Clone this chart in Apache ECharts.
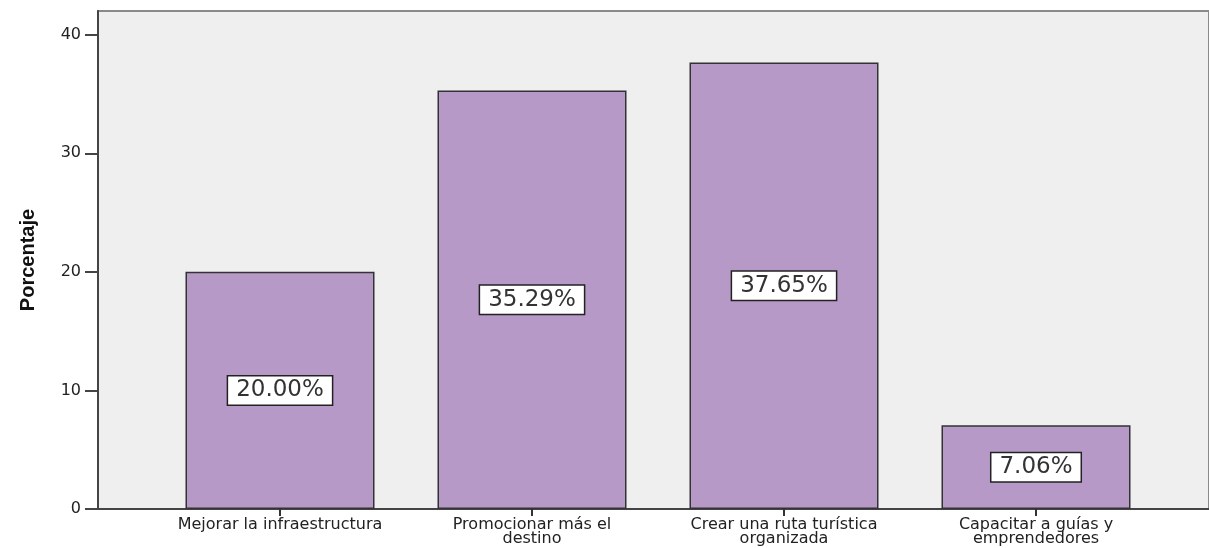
<!DOCTYPE html>
<html>
<head>
<meta charset="utf-8">
<script src="https://cdn.jsdelivr.net/npm/echarts@6/dist/echarts.min.js"></script>
<style>html,body{margin:0;padding:0;background:#fff;}#c{width:1209px;height:548px;}</style>
</head>
<body>
<div id="c"></div>
<script>
const categories = ["Mejorar la infraestructura", "Promocionar más el\ndestino", "Crear una ruta turística\norganizada", "Capacitar a guías y\nemprendedores"];
const values = [20.00, 35.29, 37.65, 7.06];
const yTicks = [0, 10, 20, 30, 40];
const yTitle = "Porcentaje";

const chart = echarts.init(document.getElementById('c'));
const font = "'DejaVu Sans', 'Liberation Sans', Arial, sans-serif";
chart.setOption({
  animation: false,
  grid: [
    {left: 98, right: 0, top: 11, bottom: 39, show: true, backgroundColor: '#efefef', borderColor: '#8a8a8a', borderWidth: 2},
    {left: 154, right: 47, top: 11, bottom: 39}
  ],
  xAxis: [
    {gridIndex: 0, type: 'category', data: ['a'], axisLine: {show: true, lineStyle: {color: '#444', width: 2}}, axisTick: {show: false}, axisLabel: {show: false}},
    {gridIndex: 1, type: 'category', data: categories, axisLine: {show: false},
     axisTick: {show: true, alignWithLabel: true, length: 7, lineStyle: {color: '#333', width: 2}},
     axisLabel: {color: '#222', fontFamily: font, fontSize: 16, lineHeight: 14, margin: 9, interval: 0}}
  ],
  yAxis: [
    {gridIndex: 0, type: 'value', min: 0, max: 42,
     axisLine: {show: true, lineStyle: {color: '#444', width: 2}},
     axisTick: {show: true, length: 13, customValues: yTicks, lineStyle: {color: '#444', width: 2}},
     axisLabel: {color: '#222', fontFamily: font, fontSize: 16, margin: 17, customValues: yTicks},
     splitLine: {show: false},
     name: yTitle, nameLocation: 'middle', nameGap: 60, nameRotate: 90,
     nameTextStyle: {fontFamily: "'Liberation Sans Narrow', 'Liberation Sans', Arial, sans-serif", fontWeight: 'bold', fontSize: 20, color: '#111'}},
    {gridIndex: 1, type: 'value', min: 0, max: 42, show: false, splitLine: {show: false}}
  ],
  series: [{
    type: 'bar', xAxisIndex: 1, yAxisIndex: 1, data: values, barWidth: '75%',
    itemStyle: {color: '#b799c8', borderColor: '#333', borderWidth: 1.5},
    label: {show: true, position: 'inside', formatter: p => p.value.toFixed(2) + '%',
      fontFamily: font, fontSize: 23, color: '#333', backgroundColor: '#fff', borderColor: '#222', borderWidth: 1.5,
      padding: [3, 8, 2, 8]}
  }]
});
</script>
</body>
</html>
